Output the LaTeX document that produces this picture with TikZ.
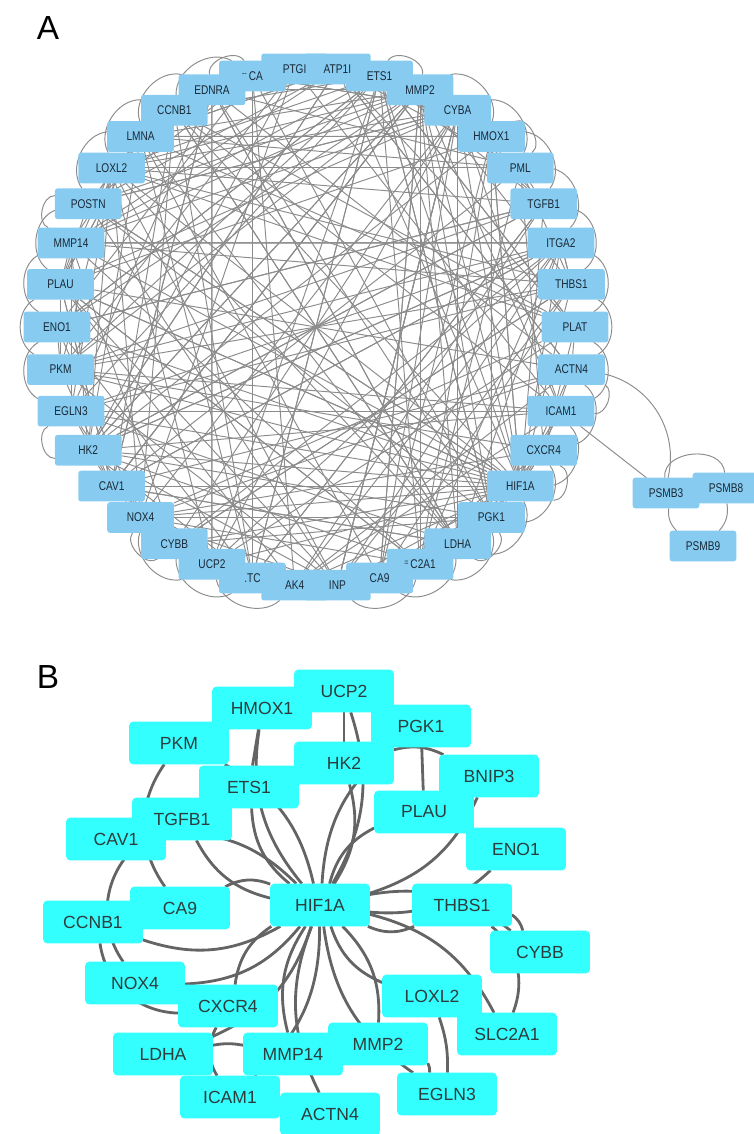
\documentclass[tikz,border=0pt]{standalone}
\usepackage{fontspec}
\setmainfont{Liberation Sans}
\newfontfamily\narrowsans[FakeStretch=0.8]{Liberation Sans}
\usetikzlibrary{positioning}
\pgfdeclarelayer{edges}
\pgfdeclarelayer{boxes}
\pgfsetlayers{edges,boxes,main}
\definecolor{boxblue}{RGB}{135,204,240}
\definecolor{boxcyan}{RGB}{51,255,255}
\definecolor{edgeA}{RGB}{140,140,140}
\definecolor{edgeB}{RGB}{100,100,100}
\definecolor{txtA}{RGB}{25,40,55}
\definecolor{txtB}{RGB}{45,60,60}

\begin{document}
\begin{tikzpicture}[
  x=0.02cm, y=-0.02cm,
  geneA/.style={minimum width=1.32cm, minimum height=0.6cm, inner sep=0pt,
    font=\narrowsans\fontsize{7.2}{8}\selectfont, text=txtA},
  geneB/.style={minimum width=1.98cm, minimum height=0.84cm, inner sep=0pt,
    font=\fontsize{10}{12}\selectfont, text=txtB},
  chord/.style={edgeA, line width=0.55pt},
  linkB/.style={edgeB, line width=1.6pt},
  panel/.style={font=\fontsize{19}{22}\selectfont}
]
\useasboundingbox (0,0) rectangle (754,1134);

% A: circle layout
\node[panel] (labA) at (48,28) {A};
\foreach \g [count=\i from 0, evaluate=\i as \ang using \i*9.4737] in
  {PLAT,ACTN4,ICAM1,CXCR4,HIF1A,PGK1,LDHA,{\raisebox{2pt}{\tiny=}\,C2A1},CA9,INP,
   AK4,.TC,UCP2,CYBB,NOX4,CAV1,HK2,EGLN3,PKM,ENO1,PLAU,MMP14,POSTN,LOXL2,LMNA,
   CCNB1,EDNRA,{\raisebox{2pt}{\tiny--}\,CA},PTGI,ATP1I,ETS1,MMP2,CYBA,HMOX1,PML,
   TGFB1,ITGA2,THBS1}
  \node[geneA] (a\i) at ([shift={(316,327)}]\ang:259) {\g};

\node[geneA] (p3) at (666,493) {PSMB3};
\node[geneA] (p8) at (726,488) {PSMB8};
\node[geneA] (p9) at (703,546) {PSMB9};

\begin{pgfonlayer}{boxes}
\foreach \i in {0,...,37}
  \fill[boxblue, rounded corners=1.5pt] (a\i.south west) rectangle (a\i.north east);
\foreach \n in {p3,p8,p9}
  \fill[boxblue, rounded corners=1.5pt] (\n.south west) rectangle (\n.north east);
\end{pgfonlayer}

\begin{pgfonlayer}{edges}
\pgfmathsetseed{2718}
\foreach \i in {0,...,37}
  \foreach \k in {1,...,5}{
    \pgfmathrandominteger{\j}{0}{37}
    \ifnum\j=\i\relax\else\draw[chord] (a\i) -- (a\j);\fi
  }
\foreach \h in {31,16,15,30,32,14}
  \foreach \k in {1,...,10}{
    \pgfmathrandominteger{\j}{0}{37}
    \ifnum\j=\h\relax\else\draw[chord] (a\h) -- (a\j);\fi
  }
\foreach \j in {12,33,18,30,16,5,9,20,19,35,15,25,8,14,3,6,21,2,1,31,37,13,23,7,17}
  \draw[chord] (a4) -- (a\j);
\foreach \i/\j in {0/2,1/3,2/4,3/5,4/6,5/7,6/8,7/9,10/12,11/13,12/14,17/19,18/20,
                   19/21,20/22,22/24,23/25,24/26,25/27,31/33,32/34,33/35,34/36,
                   35/37,36/0,37/1}
  \draw[chord] (a\i) to[bend left=60] (a\j);
\foreach \i/\j in {1/2,3/4,5/6,13/14,16/17,21/22,26/27,30/31,33/34}
  \draw[chord] (a\i) to[bend left=80] (a\j);
\draw[chord] (a1) to[bend left=45] (p3);
\draw[chord] (a2) -- (p3);
\draw[chord] (p3) to[bend left=90, looseness=1.2] (p8);
\draw[chord] (p3) to[bend right=25] (p9);
\draw[chord] (p8) to[bend left=25] (p9);
\end{pgfonlayer}

% B: HIF1A star
\node[panel] (labB) at (48,677) {B};
\foreach \n/\x/\y/\t in {hif/320/905/HIF1A, ucp/344/691/UCP2, hmox/262/708/HMOX1,
    pkm/179/743/PKM, ets/249/787/ETS1, hk/344/763/HK2, pgk/421/726/PGK1,
    bnip/489/776/BNIP3, plau/424/812/PLAU, eno/516/849/ENO1, tgfb/182/819/TGFB1,
    cav/116/839/CAV1, ccnb/93/922/CCNB1, ca/180/908/CA9, nox/135/983/NOX4,
    cxcr/228/1006/CXCR4, ldha/163/1054/LDHA, mmpa/293/1054/MMP14,
    icam/230/1097/ICAM1, actn/330/1114/ACTN4, mmpb/378/1044/MMP2,
    thbs/462/905/THBS1, cybb/540/952/CYBB, loxl/432/996/LOXL2,
    slc/507/1034/SLC2A1, egln/447/1094/EGLN3}
  \node[geneB] (\n) at (\x,\y) {\t};

\begin{pgfonlayer}{boxes}
\foreach \n in {hif,ucp,hmox,pkm,ets,hk,pgk,bnip,plau,eno,tgfb,cav,ccnb,ca,nox,
                cxcr,ldha,mmpa,icam,actn,mmpb,thbs,cybb,loxl,slc,egln}
  \fill[boxcyan, rounded corners=2.3pt] (\n.south west) rectangle (\n.north east);
\end{pgfonlayer}

\begin{pgfonlayer}{edges}
\foreach \n [count=\k] in {ucp,hmox,pkm,ets,hk,pgk,bnip,plau,eno,tgfb,cav,ccnb,ca,
                           nox,cxcr,ldha,mmpa,icam,actn,mmpb,thbs,cybb,loxl,slc,egln}{
  \pgfmathsetmacro\bb{mod(\k,2)==0 ? 24 : -24}
  \draw[linkB] (hif) to[bend left=\bb] (\n);
}
\draw[linkB] (thbs) to[bend left=20] (cybb);
\draw[linkB] (loxl) to[bend left=10] (egln);
\draw[linkB] (mmpb) to[bend left=15] (egln);
\draw[linkB] (ldha) to[bend left=10] (mmpa);
\draw[linkB] (pkm) to[bend right=35] (ca);
\draw[linkB] (ccnb) to[bend right=40] (cxcr);
\draw[linkB] (ucp) -- (hk);
\draw[linkB] (hmox) -- (ets);
\draw[linkB] (bnip) to[bend right=20] (hk);
\draw[linkB] (pgk) -- (plau);
\draw[linkB] (plau) -- (eno);
\draw[linkB] (tgfb) to[bend right=45] (nox);
\draw[linkB] (cxcr) to[bend right=30] (icam);
\draw[linkB] (thbs) to[bend left=35] (slc);
\end{pgfonlayer}
\end{tikzpicture}
\end{document}
